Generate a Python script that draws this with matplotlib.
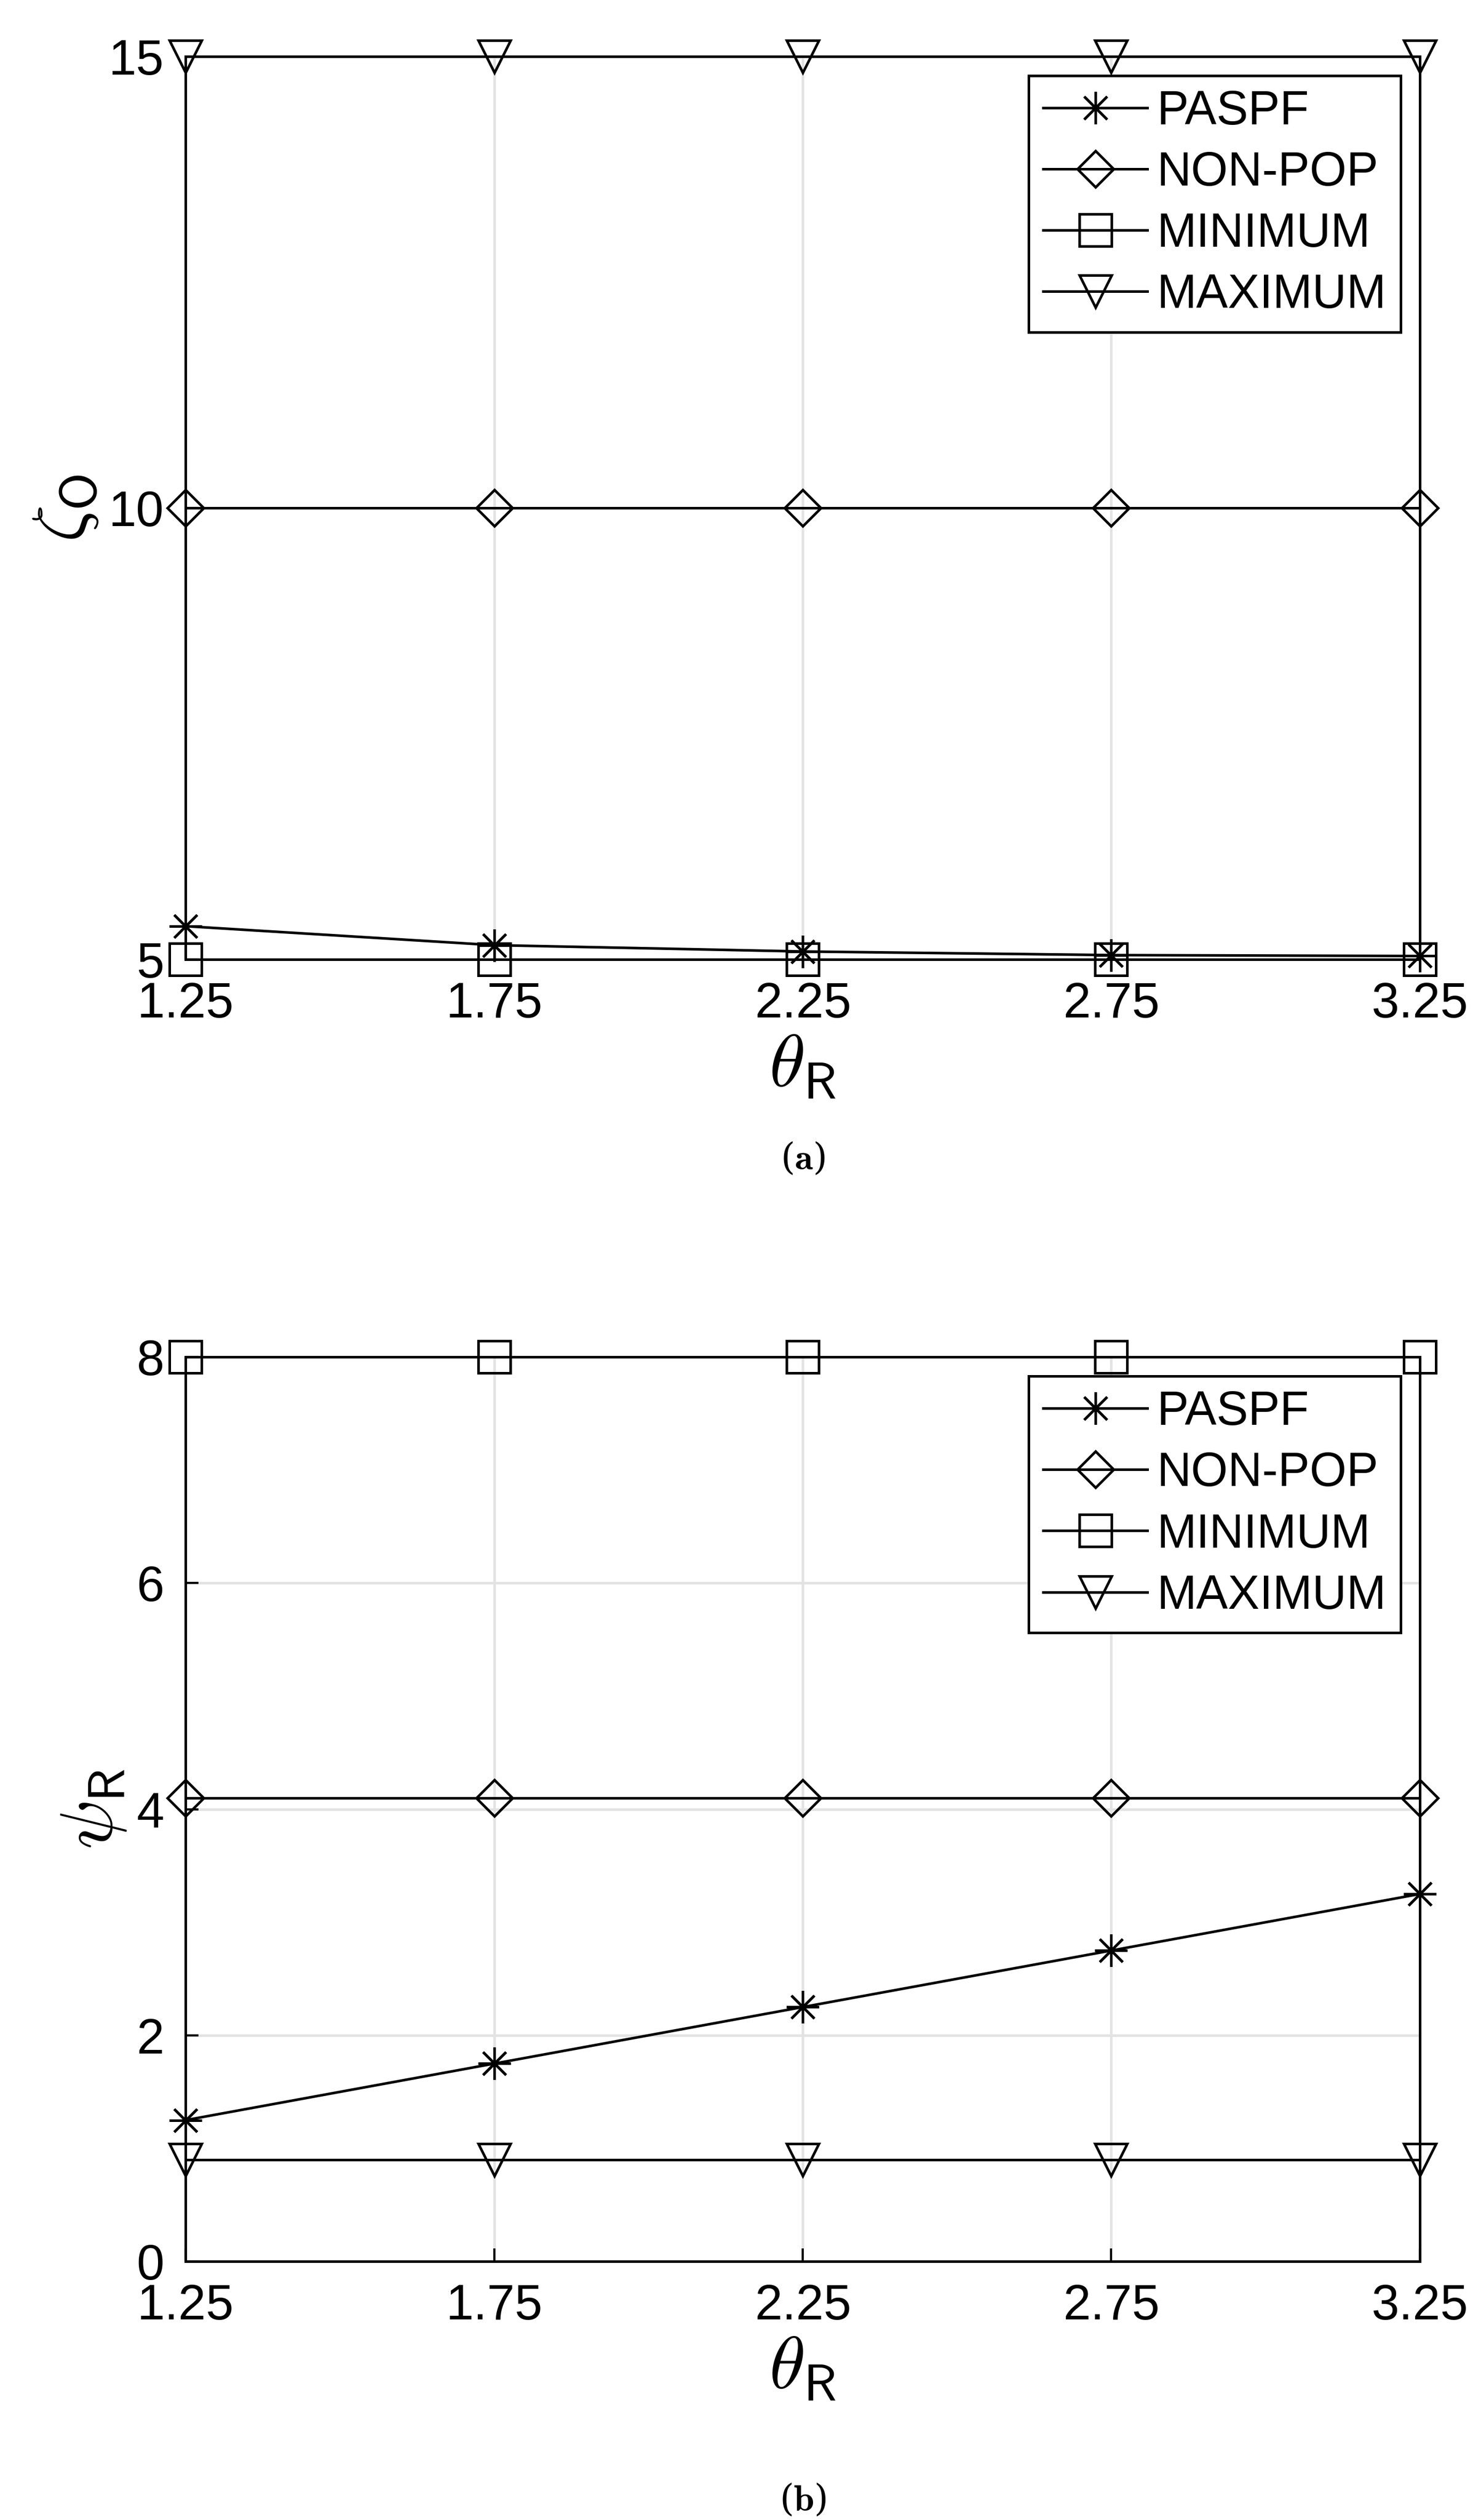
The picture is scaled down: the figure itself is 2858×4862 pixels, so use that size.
import matplotlib
matplotlib.use("Agg")
import matplotlib.pyplot as plt

theta = [1.25, 1.75, 2.25, 2.75, 3.25]
labels = ["PASPF", "NON-POP", "MINIMUM", "MAXIMUM"]
markers = [(8, 2, 0), "D", "s", "v"]
zeta_paspf = [5.37, 5.16, 5.09, 5.05, 5.04]
zeta_nonpop = [10, 10, 10, 10, 10]
zeta_min = [5, 5, 5, 5, 5]
zeta_max = [15, 15, 15, 15, 15]
psi_paspf = [1.25, 1.75, 2.25, 2.75, 3.25]
psi_nonpop = [4.1, 4.1, 4.1, 4.1, 4.1]
psi_min = [8, 8, 8, 8, 8]
psi_max = [0.9, 0.9, 0.9, 0.9, 0.9]

plt.rcParams['font.family'] = ['Liberation Sans', 'DejaVu Sans']
plt.rcParams['mathtext.fontset'] = 'cm'
fig = plt.figure(figsize=(2858/300, 4862/300), dpi=300)
ax1 = fig.add_axes([0.1254, 0.6192, 0.8332, 0.3584])
ax2 = fig.add_axes([0.1254, 0.1026, 0.8332, 0.3589])

def draw(ax, series, yt, ylim, ylabel):
    for s, m, l in zip(series, markers, labels):
        ms = 15 if m == "D" else 15
        if m == "D":
            ms = 12
        ax.plot(theta, s, color='black', lw=1.2, marker=m, ms=ms,
                mfc='none', mec='black', mew=1.2, label=l, clip_on=False, zorder=3)
    ax.set_xlim(1.25, 3.25)
    ax.set_ylim(*ylim)
    ax.set_xticks(theta)
    ax.set_xticklabels(["1.25", "1.75", "2.25", "2.75", "3.25"])
    ax.set_yticks(yt)
    ax.tick_params(labelsize=23, direction='in', length=6, width=1, pad=10)
    ax.grid(True, color='#e3e3e3', lw=1.2)
    ax.set_axisbelow(True)
    for sp in ax.spines.values():
        sp.set_linewidth(1.2)
    ax.set_xlabel(r"$\theta_{\mathsf{R}}$", fontsize=34, labelpad=2)
    ax.set_ylabel(ylabel, fontsize=34, labelpad=4)
    leg = ax.legend(loc='upper right', fontsize=22, fancybox=False, edgecolor='black',
                    borderaxespad=0.4, handlelength=2.2, labelspacing=0.35, borderpad=0.3,
                    handletextpad=0.2, framealpha=1)
    leg.get_frame().set_linewidth(1.2)

draw(ax1, [zeta_paspf, zeta_nonpop, zeta_min, zeta_max], [5, 10, 15], (5, 15), r"$\zeta_{\mathsf{O}}$")
draw(ax2, [psi_paspf, psi_nonpop, psi_min, psi_max], [0, 2, 4, 6, 8], (0, 8), r"$\psi_{\mathsf{R}}$")

fig.text(0.542, 0.540, r"($\mathbf{a}$)", ha='center', va='center', fontsize=17, family='DejaVu Serif')
fig.text(0.542, 0.0077, r"($\mathbf{b}$)", ha='center', va='center', fontsize=17, family='DejaVu Serif')
fig.savefig("out.png", dpi=300)
